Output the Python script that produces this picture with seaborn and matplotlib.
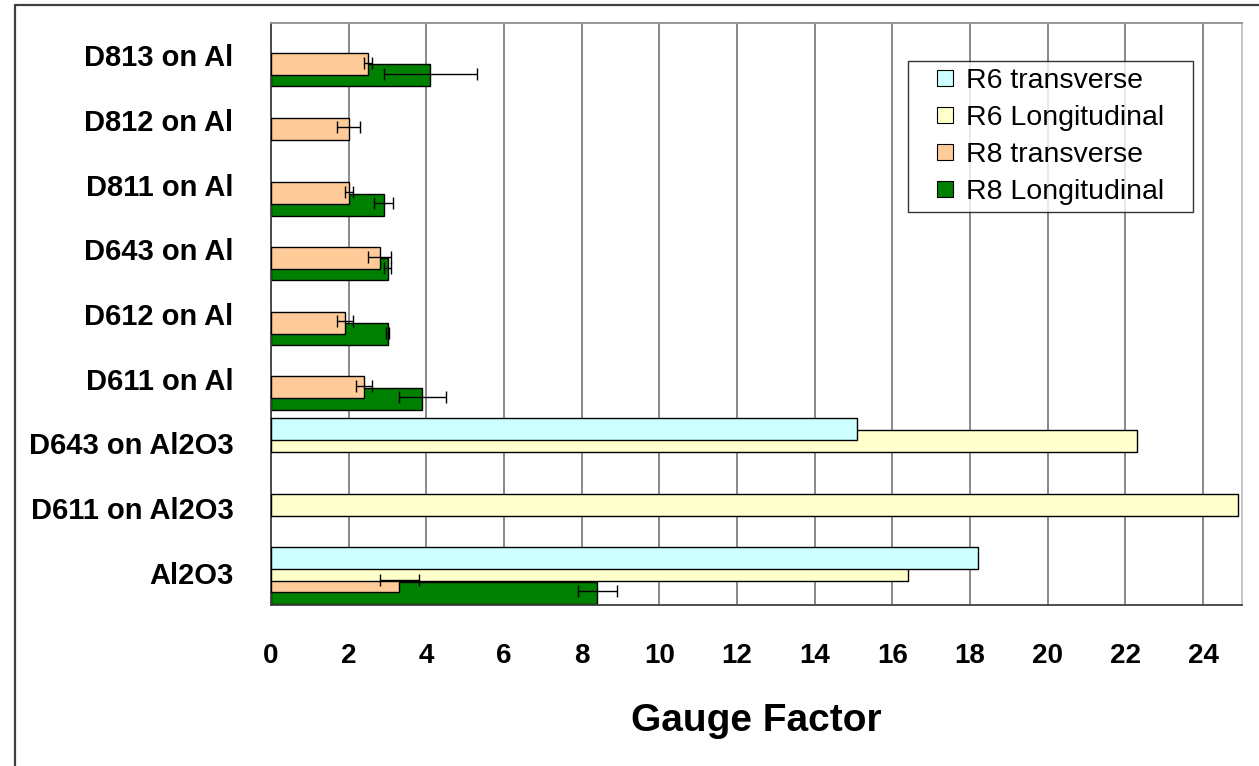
import numpy as np
import pandas as pd
import matplotlib
matplotlib.use("Agg")
import matplotlib.pyplot as plt
from matplotlib.lines import Line2D
from matplotlib.container import BarContainer
import seaborn as sns

# ---- data -------------------------------------------------------------
samples = ["D813 on Al", "D812 on Al", "D811 on Al", "D643 on Al", "D612 on Al",
           "D611 on Al", "D643 on Al2O3", "D611 on Al2O3", "Al2O3"]
series = ["R6 transverse", "R6 Longitudinal", "R8 transverse", "R8 Longitudinal"]

nan = np.nan
r6_transverse = [nan, nan, nan, nan, nan, nan, 15.1, nan, 18.2]
r6_longitudinal = [nan, nan, nan, nan, nan, nan, 22.3, 24.9, 16.4]
r8_transverse = [2.5, 2.0, 2.0, 2.8, 1.9, 2.4, nan, nan, 3.3]
r8_longitudinal = [4.1, nan, 2.9, 3.0, 3.0, 3.9, nan, nan, 8.4]

r6_transverse_err = [nan] * 9
r6_longitudinal_err = [nan] * 9
r8_transverse_err = [0.1, 0.3, 0.1, 0.3, 0.2, 0.2, nan, nan, 0.5]
r8_longitudinal_err = [1.2, nan, 0.25, 0.1, 0.05, 0.6, nan, nan, 0.5]

x_ticks = list(range(0, 25, 2))

colors = ["#CCFFFF", "#FFFFCC", "#FFCC99", "#008000"]

values = [r6_transverse, r6_longitudinal, r8_transverse, r8_longitudinal]
errors = [r6_transverse_err, r6_longitudinal_err, r8_transverse_err, r8_longitudinal_err]

df = pd.DataFrame({
    "sample": samples * len(series),
    "series": np.repeat(series, len(samples)),
    "gf": np.concatenate(values),
})

# ---- style ------------------------------------------------------------
sns.set_style("white")
plt.rcParams["font.family"] = ["Liberation Sans", "DejaVu Sans"]
plt.rcParams["text.color"] = "black"
plt.rcParams["xtick.color"] = "black"
plt.rcParams["ytick.color"] = "black"
plt.rcParams["axes.labelcolor"] = "black"

W, H = 1259, 766
fig = plt.figure(figsize=(W / 100, H / 100), dpi=100)
ax = fig.add_axes([271 / W, 1 - 605 / H, (1242 - 271) / W, (605 - 23) / H])

step = 0.177
sns.barplot(data=df, y="sample", x="gf", hue="series", order=samples,
            hue_order=series, palette=colors, orient="h", dodge=True,
            width=step * len(series), errorbar=None, legend=False,
            edgecolor="black", linewidth=1.0, saturation=1, ax=ax)

bar_conts = [c for c in ax.containers if isinstance(c, BarContainer)]

# overlapping bars: taller than the dodge step; green at the bottom, cyan on top
bar_h = 0.34
shift = 0.045
for k, cont in enumerate(bar_conts):
    for p in cont.patches:
        yc = p.get_y() + p.get_height() / 2 + shift
        p.set_height(bar_h)
        p.set_y(yc - bar_h / 2)
        p.set_zorder(5 - k)

# error bars
for k, cont in enumerate(bar_conts):
    for p in cont.patches:
        yc = p.get_y() + p.get_height() / 2 - 0.02
        idx = int(round(yc))
        err = errors[k][idx]
        if not np.isnan(err):
            ax.errorbar(values[k][idx], yc, xerr=err, fmt="none",
                        ecolor="black", elinewidth=1.0, capsize=4.5,
                        capthick=1.0, zorder=10)

# ---- axes -------------------------------------------------------------
ax.set_xlim(0, 25)
ax.set_ylim(len(samples) - 0.5, -0.5)
ax.set_xticks(x_ticks)
ax.set_xticklabels([str(t) for t in x_ticks], fontsize=20, fontweight="bold")
ax.tick_params(axis="x", direction="inout", length=9, width=1.0,
               color="#404040", pad=23)
ax.set_yticks(range(len(samples)))
ax.set_yticklabels(samples, fontsize=21, fontweight="bold")
ax.set_yticks(np.arange(-0.5, len(samples), 1.0), minor=True)
ax.tick_params(axis="y", which="major", length=0, pad=27)
ax.tick_params(axis="y", which="minor", direction="out", length=9,
               width=1.0, color="#404040")
ax.set_ylabel("")
ax.set_xlabel("Gauge Factor", fontsize=28, fontweight="bold", labelpad=24)

ax.grid(axis="x", color="#808080", linewidth=1.3)
ax.grid(axis="y", visible=False)
ax.set_axisbelow(True)

for side in ["left", "bottom"]:
    ax.spines[side].set_color("#404040")
    ax.spines[side].set_linewidth(1.3)
ax.spines["top"].set_color("#909090")
ax.spines["top"].set_linewidth(1.3)
ax.spines["right"].set_color("#c0c0c0")
ax.spines["right"].set_linewidth(1.3)
for s in ax.spines.values():
    s.set_visible(True)

# ---- legend -----------------------------------------------------------
handles = [Line2D([], [], linestyle="none", marker="s", markersize=11,
                  markerfacecolor=c, markeredgecolor="black",
                  markeredgewidth=0.8) for c in colors]
leg = ax.legend(handles, series, loc="upper left",
                bbox_to_anchor=(0.6557, 0.3, 0.2935, 0.6352), mode="expand",
                borderaxespad=0, fontsize=20.5, frameon=True, fancybox=False,
                handlelength=2.1, handletextpad=-0.3, labelspacing=0.39,
                borderpad=0.25)
leg.get_frame().set_edgecolor("black")
leg.get_frame().set_linewidth(1.0)
leg.set_zorder(20)

# ---- outer frame ------------------------------------------------------
fx, fy = 15 / W, 1 - 5 / H
fig.add_artist(Line2D([fx, fx], [0, fy], transform=fig.transFigure,
                      color="#404040", linewidth=1.6))
fig.add_artist(Line2D([fx, 1], [fy, fy], transform=fig.transFigure,
                      color="#404040", linewidth=1.6))

fig.savefig("out.png", dpi=100)
